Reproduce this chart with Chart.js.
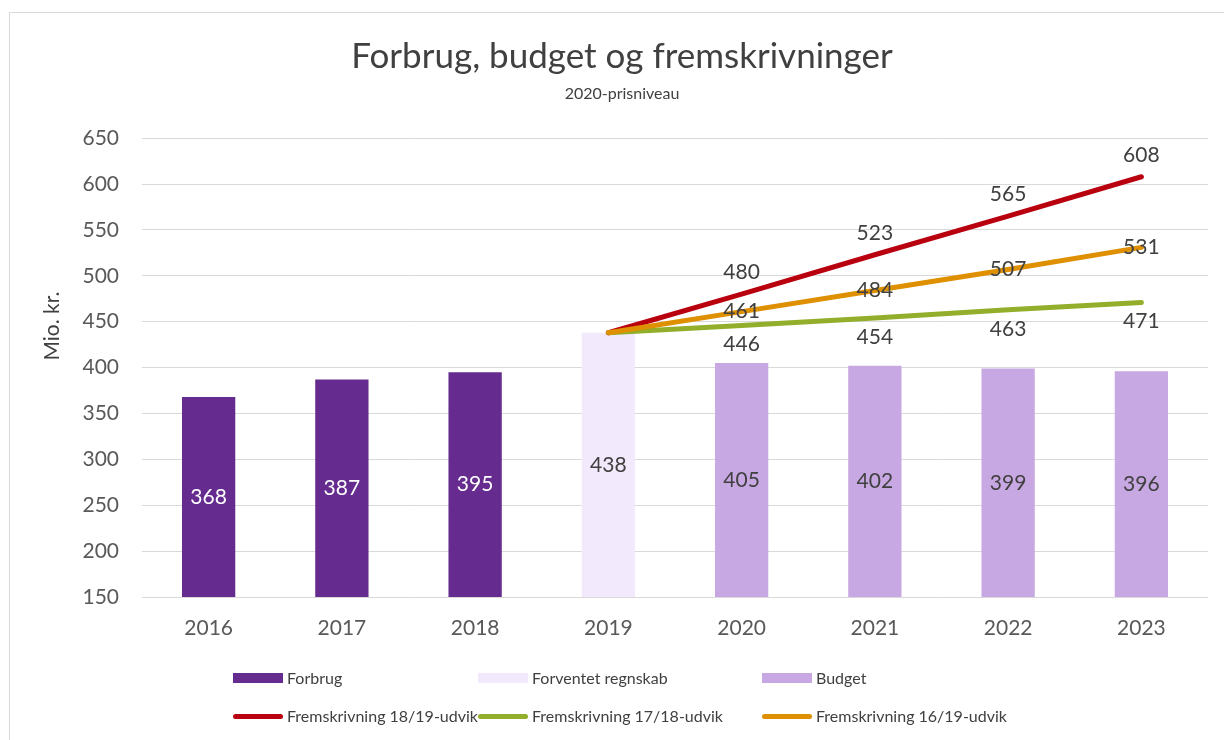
<!DOCTYPE html>
<html>
<head>
<meta charset="utf-8">
<script src="https://cdn.jsdelivr.net/npm/chart.js@4.4.1/dist/chart.umd.min.js"></script>
<style>
  html, body { margin: 0; padding: 0; background: #fff; }
  #wrap { position: relative; width: 1224px; height: 740px; overflow: hidden; font-family: Lato, sans-serif; }
  #frame { position: absolute; left: 9px; top: 12px; width: 1240px; height: 760px; border: 1px solid #d9d9d9; }
  #chart { position: absolute; left: 0; top: 0; }
  .item { position: absolute; font-size: 16px; color: #404040; white-space: nowrap; line-height: 20px; }
  .item .sw { position: absolute; left: 0; width: 50px; }
  .item .box { top: 5px; height: 10px; }
  .item .ln { top: 8px; height: 5px; border-radius: 3px; }
  .item span.txt { margin-left: 54px; }
</style>
</head>
<body>
<div id="wrap">
  <div id="frame"></div>
  <canvas id="chart" width="1224" height="740"></canvas>
  <div id="legend"></div>
</div>
<script>
const years = ["2016", "2017", "2018", "2019", "2020", "2021", "2022", "2023"];
const forbrug = [368, 387, 395, null, null, null, null, null];
const forventet = [null, null, null, 438, null, null, null, null];
const budget = [null, null, null, null, 405, 402, 399, 396];
const frem1819 = [null, null, null, 438, 480, 523, 565, 608];
const frem1718 = [null, null, null, 438, 446, 454, 463, 471];
const frem1619 = [null, null, null, 438, 461, 484, 507, 531];
const yTicks = [150, 200, 250, 300, 350, 400, 450, 500, 550, 600, 650];

const FONT = "Lato, sans-serif";
const TEXT = "#404040";

// data labels, drawn from the element positions the library computed
const valueLabels = {
  id: "valueLabels",
  afterDatasetsDraw(chart) {
    const ctx = chart.ctx;
    const area = chart.chartArea;
    ctx.save();
    ctx.font = "21px " + FONT;
    ctx.textAlign = "center";
    ctx.textBaseline = "middle";
    chart.data.datasets.forEach((ds, di) => {
      const meta = chart.getDatasetMeta(di);
      meta.data.forEach((el, i) => {
        const v = ds.data[i];
        if (v == null) return;
        let y;
        if (ds.type === "bar") {
          const base = Math.min(el.base, area.bottom);
          y = (el.y + base) / 2;
        } else {
          if (i === 0 || ds.data[i - 1] == null) return; // no label at start point
          y = el.y + ds.labelShift;
        }
        ctx.fillStyle = ds.labelColor || TEXT;
        ctx.fillText(String(v), el.x, y);
      });
    });
    ctx.restore();
  },
};

const yTitle = {
  id: "yTitle",
  afterDraw(chart) {
    const ctx = chart.ctx;
    ctx.save();
    ctx.translate(52, 326);
    ctx.rotate(-Math.PI / 2);
    ctx.font = "21px " + FONT;
    ctx.fillStyle = TEXT;
    ctx.textAlign = "center";
    ctx.textBaseline = "middle";
    ctx.fillText("Mio. kr.", 0, 0);
    ctx.restore();
  },
};

const barOpts = { type: "bar", grouped: false, barPercentage: 0.4, categoryPercentage: 1.0, borderWidth: 0 };
const lineOpts = { type: "line", borderWidth: 5, pointRadius: 0, borderCapStyle: "round", borderJoinStyle: "round", spanGaps: false, fill: false };

const datasets = [
  Object.assign({ label: "Forbrug", data: forbrug, backgroundColor: "#652B8E", labelColor: "#ffffff", order: 5 }, barOpts),
  Object.assign({ label: "Forventet regnskab", data: forventet, backgroundColor: "#F2E9FC", order: 4 }, barOpts),
  Object.assign({ label: "Budget", data: budget, backgroundColor: "#C8A8E2", order: 3 }, barOpts),
  Object.assign({ label: "Fremskrivning 18/19-udvik", data: frem1819, borderColor: "#B9000F", labelShift: -22, order: 2 }, lineOpts),
  Object.assign({ label: "Fremskrivning 17/18-udvik", data: frem1718, borderColor: "#93AE2A", labelShift: 19, order: 1 }, lineOpts),
  Object.assign({ label: "Fremskrivning 16/19-udvik", data: frem1619, borderColor: "#DF9000", labelShift: 0, order: 0 }, lineOpts),
];

const chart = new Chart(document.getElementById("chart").getContext("2d"), {
  data: { labels: years, datasets: datasets },
  options: {
    responsive: false,
    animation: false,
    events: [],
    layout: { padding: { left: 36, right: 16, top: 0, bottom: 0 } },
    scales: {
      x: {
        grid: { display: false, drawTicks: false },
        border: { display: false },
        ticks: { color: "#595959", font: { family: FONT, size: 21 }, padding: 19 },
        afterFit(scale) { scale.height = 143; },
      },
      y: {
        min: yTicks[0],
        max: yTicks[yTicks.length - 1],
        afterBuildTicks(scale) { scale.ticks = yTicks.map((v) => ({ value: v })); },
        grid: { color: "#d9d9d9", lineWidth: 1, drawTicks: false },
        border: { display: false },
        ticks: { color: "#595959", font: { family: FONT, size: 21 }, padding: 23 },
        afterFit(scale) { scale.width = 106; },
      },
    },
    plugins: {
      legend: { display: false },
      tooltip: { enabled: false },
      title: {
        display: true,
        text: "Forbrug, budget og fremskrivninger",
        color: TEXT,
        font: { family: FONT, size: 35, weight: "normal", lineHeight: 1.2 },
        padding: { top: 36, bottom: 6 },
      },
      subtitle: {
        display: true,
        text: "2020-prisniveau",
        color: TEXT,
        font: { family: FONT, size: 16, weight: "normal", lineHeight: 1.2 },
        padding: { top: 0, bottom: 35 },
      },
    },
  },
  plugins: [valueLabels, yTitle],
});

// legend, two rows like the original
const legendPos = [
  [233, 668], [478, 668], [762, 668],
  [233, 706], [478, 706], [762, 706],
];
const legendEl = document.getElementById("legend");
datasets.forEach((ds, i) => {
  const item = document.createElement("div");
  item.className = "item";
  item.style.left = legendPos[i][0] + "px";
  item.style.top = legendPos[i][1] + "px";
  const sw = document.createElement("div");
  if (ds.type === "bar") {
    sw.className = "sw box";
    sw.style.background = ds.backgroundColor;
  } else {
    sw.className = "sw ln";
    sw.style.background = ds.borderColor;
  }
  const txt = document.createElement("span");
  txt.className = "txt";
  txt.textContent = ds.label;
  item.appendChild(sw);
  item.appendChild(txt);
  legendEl.appendChild(item);
});
</script>
</body>
</html>
